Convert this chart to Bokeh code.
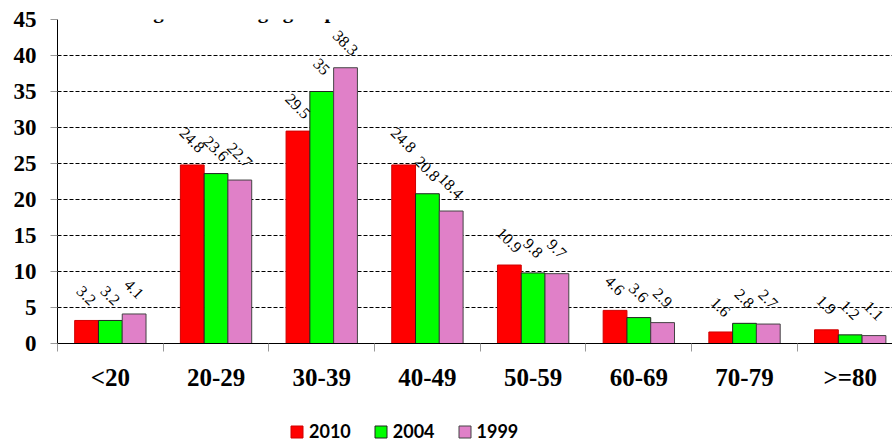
import numpy as np
from bokeh.plotting import figure
from bokeh.layouts import column
from bokeh.models import (ColumnDataSource, Range1d, FixedTicker, LabelSet, Label,
                          Legend, LegendItem)
from bokeh.transform import dodge
from bokeh.embed import file_html
from bokeh.resources import INLINE

categories = ["<20", "20-29", "30-39", "40-49", "50-59", "60-69", "70-79", ">=80"]
v2010 = [3.2, 24.8, 29.5, 24.8, 10.9, 4.6, 1.6, 1.9]
v2004 = [3.2, 23.6, 35, 20.8, 9.8, 3.6, 2.8, 1.2]
v1999 = [4.1, 22.7, 38.3, 18.4, 9.7, 2.9, 2.7, 1.1]
series = [("2010", v2010, "#FF0000", "#D00000"),
          ("2004", v2004, "#00FF00", "#222222"),
          ("1999", v1999, "#E080C8", "#444444")]
title_text = "Percentage in each age group"

centers = np.arange(len(categories)) + 0.5

p = figure(width=892, height=410, output_backend="svg", toolbar_location=None,
           x_range=Range1d(0, 7.9), y_range=Range1d(0, 45),
           min_border_left=57, min_border_right=0, min_border_top=19,
           min_border_bottom=67)
p.outline_line_color = None
p.background_fill_color = "white"
p.border_fill_color = "white"

# grid
p.xgrid.visible = False
p.ygrid.grid_line_color = "black"
p.ygrid.grid_line_dash = "4 2"
p.ygrid.grid_line_width = 1
p.yaxis.ticker = FixedTicker(ticks=list(range(0, 46, 5)))

# y axis
p.yaxis.axis_line_color = "black"
p.yaxis.major_tick_line_color = "#999999"
p.yaxis.major_tick_out = 7
p.yaxis.major_tick_in = 0
p.yaxis.minor_tick_line_color = None
p.yaxis.major_label_text_font = "Liberation Serif"
p.yaxis.major_label_text_font_style = "bold"
p.yaxis.major_label_text_font_size = "23px"
p.yaxis.major_label_text_color = "black"
p.yaxis.major_label_standoff = 14

# x axis
p.xaxis.ticker = FixedTicker(ticks=list(centers), minor_ticks=list(range(0, 9)))
p.xaxis.major_label_overrides = {float(c): cat for c, cat in zip(centers, categories)}
p.xaxis.major_tick_line_color = None
p.xaxis.minor_tick_line_color = "#999999"
p.xaxis.minor_tick_out = 8
p.xaxis.minor_tick_in = 0
p.xaxis.axis_line_color = "black"
p.xaxis.major_label_text_font = "Liberation Serif"
p.xaxis.major_label_text_font_style = "bold"
p.xaxis.major_label_text_font_size = "25px"
p.xaxis.major_label_text_color = "black"
p.xaxis.major_label_standoff = 12

offsets = [-0.225, 0.0, 0.225]
bw = 0.225
for (name, vals, color, lc), off in zip(series, offsets):
    src = ColumnDataSource(dict(x=centers, top=vals, lab=[f"{v:g}" for v in vals]))
    p.vbar(x=dodge("x", off), top="top", width=bw, source=src,
           fill_color=color, line_color=lc, line_width=1)
    labels = LabelSet(x=dodge("x", off), y="top", text="lab", source=src,
                      angle=-np.pi / 4, text_align="center", text_baseline="middle",
                      x_offset=0, y_offset=25, text_font="Liberation Serif",
                      text_font_size="16px", text_color="black")
    p.add_layout(labels)

p.add_layout(Label(x=0.16, y=46.2, text=title_text, text_font="Liberation Serif",
                   text_font_style="bold", text_font_size="21px",
                   text_baseline="alphabetic", text_color="black"))

# legend strip underneath
p2 = figure(width=892, height=34, output_backend="svg", toolbar_location=None,
            x_range=Range1d(0, 1), y_range=Range1d(0, 1),
            min_border_left=57, min_border_right=0, min_border_top=0,
            min_border_bottom=0)
p2.outline_line_color = None
p2.xaxis.visible = False
p2.yaxis.visible = False
p2.xgrid.visible = False
p2.ygrid.visible = False
items = []
for name, vals, color, lc in series:
    # legend swatch source: a single zero-height bar placed outside the visible range
    r = p2.vbar(x=[-5], top=[0], width=0.1, fill_color=color, line_color=lc, line_width=1)
    items.append(LegendItem(label=name, renderers=[r]))
legend = Legend(items=items, orientation="horizontal", location=(232, 2),
                padding=0, margin=0, spacing=22, label_standoff=5,
                glyph_width=15, glyph_height=15, label_height=15,
                border_line_color=None, background_fill_alpha=0,
                label_text_font="Lato", label_text_font_style="bold",
                label_text_font_size="18px", label_text_color="black")
p2.add_layout(legend, "center")

open("out.html", "w").write(file_html(column(p, p2, spacing=0), INLINE))
